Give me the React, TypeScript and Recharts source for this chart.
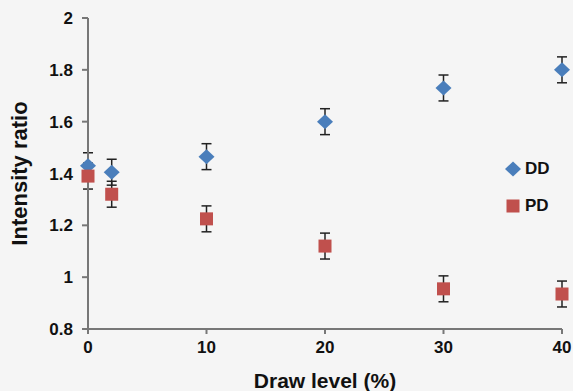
import React from 'react';
import { ScatterChart, Scatter, XAxis, YAxis, ErrorBar } from 'recharts';

const drawLevels = [0, 2, 10, 20, 30, 40];
const ddValues = [1.43, 1.405, 1.465, 1.6, 1.73, 1.8];
const ddErrors = [0.05, 0.05, 0.05, 0.05, 0.05, 0.05];
const pdValues = [1.39, 1.32, 1.225, 1.12, 0.955, 0.935];
const pdErrors = [0.05, 0.05, 0.05, 0.05, 0.05, 0.05];
const xTicks = [0, 10, 20, 30, 40];
const yTicks = [0.8, 1, 1.2, 1.4, 1.6, 1.8, 2];

const DD_COLOR = '#4a7ebb';
const PD_COLOR = '#c0504d';
const FONT = '"Liberation Sans", Arial, sans-serif';

const ddData = drawLevels.map((x, i) => ({ x, y: ddValues[i], err: ddErrors[i] }));
const pdData = drawLevels.map((x, i) => ({ x, y: pdValues[i], err: pdErrors[i] }));

const Diamond = ({ cx, cy, fill }: any) => (
  <path d={`M${cx},${cy - 7.5} L${cx + 8},${cy} L${cx},${cy + 7.5} L${cx - 8},${cy} Z`} fill={fill} />
);

const Square = ({ cx, cy, fill }: any) => (
  <rect x={cx - 6.5} y={cy - 6.5} width={13} height={13} fill={fill} />
);

const series = [
  { name: 'DD', color: DD_COLOR, shape: 'diamond' },
  { name: 'PD', color: PD_COLOR, shape: 'square' },
];

const ChartLegend = () => (
  <div style={{ position: 'absolute', left: 505, top: 150, fontFamily: FONT, fontWeight: 700, fontSize: 17, color: '#111' }}>
    {series.map(s => (
      <div key={s.name} style={{ display: 'flex', alignItems: 'center', height: 37 }}>
        <svg width={16} height={16} style={{ marginRight: 4 }}>
          {s.shape === 'diamond'
            ? <Diamond cx={8} cy={8} fill={s.color} />
            : <Square cx={8} cy={8} fill={s.color} />}
        </svg>
        <span>{s.name}</span>
      </div>
    ))}
  </div>
);

export default function App() {
  return (
    <div style={{ position: 'absolute', left: 0, top: 0, width: 573, height: 391, background: '#f5f5f5' }}>
      <ScatterChart width={573} height={391} margin={{ top: 18, right: 11, bottom: 0, left: 0 }}>
        <XAxis
          type="number"
          dataKey="x"
          domain={[0, 40]}
          ticks={xTicks}
          height={62}
          stroke="#777"
          strokeWidth={2}
          tickSize={5}
          tickMargin={7}
          tick={{ fill: '#111', fontSize: 17, fontWeight: 700, fontFamily: FONT }}
          label={{ value: 'Draw level (%)', position: 'insideBottom', offset: 3, style: { fill: '#111', fontSize: 21, fontWeight: 700, fontFamily: FONT } }}
        />
        <YAxis
          type="number"
          dataKey="y"
          domain={[0.8, 2]}
          ticks={yTicks}
          width={88}
          stroke="#777"
          strokeWidth={2}
          tickSize={6}
          tickMargin={9}
          tickFormatter={(v: number) => String(Math.round(v * 10) / 10)}
          tick={{ fill: '#111', fontSize: 17, fontWeight: 700, fontFamily: FONT }}
          label={{ value: 'Intensity ratio', angle: -90, position: 'insideLeft', offset: 19, style: { textAnchor: 'middle', fill: '#111', fontSize: 22, fontWeight: 700, fontFamily: FONT } }}
        />
        <Scatter name="DD" data={ddData} fill={DD_COLOR} shape={<Diamond />} isAnimationActive={false}>
          <ErrorBar dataKey="err" direction="y" width={5} stroke="#222" strokeWidth={1.5} />
        </Scatter>
        <Scatter name="PD" data={pdData} fill={PD_COLOR} shape={<Square />} isAnimationActive={false}>
          <ErrorBar dataKey="err" direction="y" width={5} stroke="#222" strokeWidth={1.5} />
        </Scatter>
      </ScatterChart>
      <ChartLegend />
    </div>
  );
}
